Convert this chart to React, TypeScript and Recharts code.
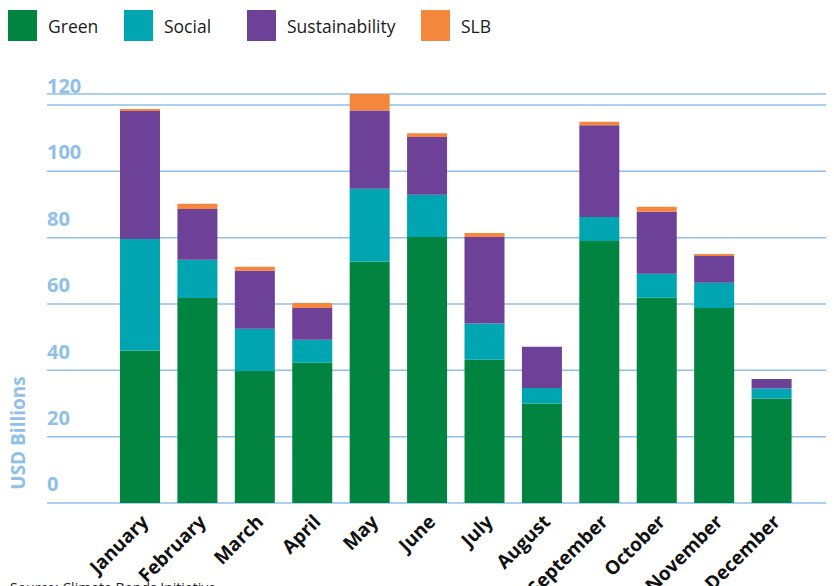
import React from 'react'
import { BarChart, Bar, XAxis, YAxis, CartesianGrid, Label } from 'recharts'

// monthly issuance by theme, USD billions
const months = [
  'January', 'February', 'March', 'April', 'May', 'June',
  'July', 'August', 'September', 'October', 'November', 'December',
]
const green = [46.0, 61.8, 39.8, 42.3, 72.7, 80.2, 43.2, 30.0, 79.0, 61.9, 58.8, 31.5]
const social = [33.6, 11.5, 12.7, 6.9, 22.0, 12.7, 10.9, 4.7, 7.2, 7.2, 7.6, 3.0]
const sustainability = [38.6, 15.3, 17.5, 9.6, 23.6, 17.4, 26.1, 12.4, 27.7, 18.7, 8.1, 2.9]
const slb = [0.6, 1.6, 1.2, 1.5, 5.0, 1.2, 1.2, 0, 1.0, 1.5, 0.6, 0]

const yTicks = [0, 20, 40, 60, 80, 100, 120]

const series = [
  { key: 'green', name: 'Green', color: '#00843f', slot: 116 },
  { key: 'social', name: 'Social', color: '#00a5b2', slot: 123 },
  { key: 'sustainability', name: 'Sustainability', color: '#6c4197', slot: 174 },
  { key: 'slb', name: 'SLB', color: '#f5873d', slot: 80 },
]

const data = months.map((month, i) => ({
  month,
  green: green[i],
  social: social[i],
  sustainability: sustainability[i],
  slb: slb[i],
}))

const FONT = '"Open Sans", sans-serif'
const BLUE = '#8fc0e9'

const YTick = ({ y, payload }: any) => (
  <text x={47} y={y - 19} dy="0.36em" fill={BLUE} fontSize={20} fontWeight={700} fontFamily={FONT}>
    {payload.value}
  </text>
)

const XTick = ({ x, y, payload }: any) => (
  <g transform={`translate(${x + 10},${y + 18})`}>
    <text textAnchor="end" transform="rotate(-45)" fill="#111" fontSize={19} fontWeight={700} fontFamily={FONT}>
      {payload.value}
    </text>
  </g>
)

const AxisTitle = ({ viewBox }: any) => {
  const cx = viewBox.x + 18
  const cy = viewBox.y + viewBox.height - 70
  return (
    <text
      x={cx}
      y={cy}
      transform={`rotate(-90, ${cx}, ${cy})`}
      textAnchor="middle"
      dy="0.36em"
      fill={BLUE}
      fontSize={19}
      fontWeight={700}
      fontFamily={FONT}
    >
      USD Billions
    </text>
  )
}

export default function App() {
  return (
    <div style={{ position: 'absolute', left: 0, top: 0, width: 834, height: 586, overflow: 'hidden', background: '#fff' }}>
      <div style={{ position: 'absolute', left: 8, top: 10, display: 'flex', alignItems: 'center', fontFamily: FONT, fontSize: 17.5, color: '#1a1a1a' }}>
        {series.map((s) => (
          <div key={s.key} style={{ display: 'flex', alignItems: 'center', width: s.slot, whiteSpace: 'nowrap' }}>
            <span style={{ display: 'inline-block', width: 29, height: 31, background: s.color, marginRight: 11, flexShrink: 0 }} />
            <span>{s.name}</span>
          </div>
        ))}
      </div>
      <BarChart
        width={834}
        height={586}
        data={data}
        margin={{ top: 94, right: 8, left: 0, bottom: 3 }}
      >
        <CartesianGrid vertical={false} stroke={BLUE} strokeWidth={1.5} />
        <XAxis
          dataKey="month"
          height={80}
          axisLine={false}
          tickLine={false}
          tickSize={0}
          interval={0}
          padding={{ left: 64, right: 26 }}
          tick={<XTick />}
        />
        <YAxis
          width={47}
          domain={[0, 'dataMax']}
          ticks={yTicks}
          axisLine={false}
          tickLine={false}
          tick={<YTick />}
        >
          <Label content={<AxisTitle />} />
        </YAxis>
        {series.map((s) => (
          <Bar key={s.key} dataKey={s.key} name={s.name} stackId="a" fill={s.color} barSize={40} isAnimationActive={false} />
        ))}
      </BarChart>
      <div style={{ position: 'absolute', left: 10, top: 578, fontFamily: FONT, fontSize: 14, color: '#222', whiteSpace: 'nowrap' }}>
        Source: Climate Bonds Initiative
      </div>
    </div>
  )
}
